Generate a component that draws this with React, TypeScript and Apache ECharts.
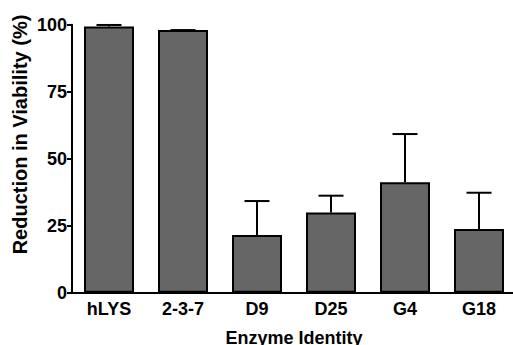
import React, { useEffect, useRef } from "react";
import * as echarts from "echarts";

const categories = ["hLYS", "2-3-7", "D9", "D25", "G4", "G18"];
const means = [99.3, 98.0, 21.5, 29.9, 41.2, 23.8];
const errorUpper = [99.9, 98.0, 34.2, 36.2, 59.2, 37.3];
const yTicks = [0, 25, 50, 75, 100];
const xTitle = "Enzyme Identity";
const yTitle = "Reduction in Viability (%)";

const FONT = "Liberation Sans, Arial, Helvetica, sans-serif";

export default function App() {
  const ref = useRef<HTMLDivElement>(null);
  useEffect(() => {
    if (!ref.current) return;
    const chart = echarts.init(ref.current, undefined, { renderer: "svg" });
    const errData = categories.map((_, i) => [i, means[i], errorUpper[i]]);
    chart.setOption({
      animation: false,
      backgroundColor: "#ffffff",
      grid: {
        left: 72,
        top: 24.7,
        bottom: 52.3,
        width: 444,
        containLabel: false,
        outerBoundsMode: "none",
      },
      graphic: [
        {
          type: "text",
          x: 20,
          y: 134.5,
          rotation: Math.PI / 2,
          style: {
            text: yTitle,
            fontFamily: FONT,
            fontWeight: "bold",
            fontSize: 20,
            fill: "#000",
            align: "center",
            verticalAlign: "middle",
          },
        },
      ],
      xAxis: {
        type: "category",
        data: categories,
        name: xTitle,
        nameLocation: "middle",
        nameGap: 36,
        nameMoveOverlap: false,
        nameTextStyle: { fontFamily: FONT, fontWeight: "bold", fontSize: 18, color: "#000" },
        axisLine: { lineStyle: { color: "#000", width: 2 } },
        axisTick: { alignWithLabel: true, length: 4, lineStyle: { color: "#000", width: 2 } },
        axisLabel: { fontFamily: FONT, fontWeight: "bold", fontSize: 18, color: "#000", margin: 7 },
      },
      yAxis: {
        type: "value",
        min: yTicks[0],
        max: yTicks[yTicks.length - 1],
        interval: 25,
        axisLine: { show: true, lineStyle: { color: "#000", width: 2 } },
        axisTick: { show: true, length: 5, lineStyle: { color: "#000", width: 2 } },
        axisLabel: { fontFamily: FONT, fontWeight: "bold", fontSize: 18, color: "#000", margin: 5 },
        splitLine: { show: false },
      },
      series: [
        {
          type: "bar",
          data: means,
          barWidth: 50,
          itemStyle: { color: "#666666", borderColor: "#000", borderWidth: 2 },
          z: 2,
        },
        {
          type: "custom",
          data: errData,
          z: 3,
          renderItem: (params: any, api: any) => {
            const i = api.value(0);
            const top = api.coord([i, api.value(2)]);
            const base = api.coord([i, api.value(1)]);
            const half = 12.5;
            return {
              type: "group",
              children: [
                {
                  type: "line",
                  shape: { x1: top[0], y1: base[1], x2: top[0], y2: top[1] },
                  style: { stroke: "#000", lineWidth: 2 },
                },
                {
                  type: "line",
                  shape: { x1: top[0] - half, y1: top[1], x2: top[0] + half, y2: top[1] },
                  style: { stroke: "#000", lineWidth: 2 },
                },
              ],
            };
          },
        },
      ],
    });
    return () => chart.dispose();
  }, []);
  return (
    <div style={{ position: "fixed", left: 0, top: 0, width: 513, height: 345, background: "#fff" }}>
      <div ref={ref} style={{ width: 513, height: 345 }} />
    </div>
  );
}
